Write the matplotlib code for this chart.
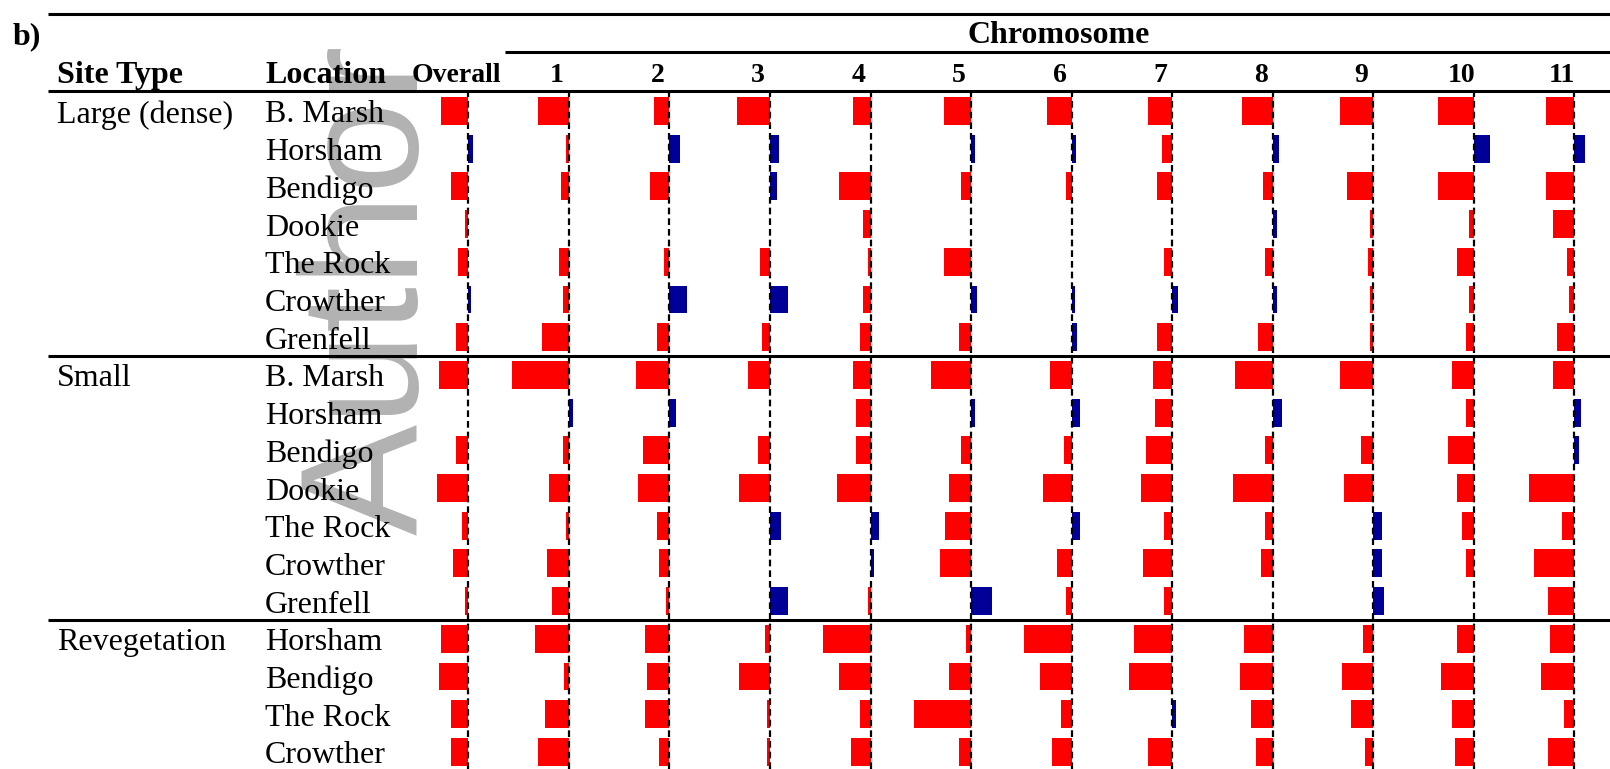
import matplotlib.pyplot as plt
import numpy as np

W, H = 1610, 769

site_types = ["Large (dense)", "Small", "Revegetation"]
site_sizes = [7, 7, 4]
locations = [
    "B. Marsh", "Horsham", "Bendigo", "Dookie", "The Rock", "Crowther", "Grenfell",
    "B. Marsh", "Horsham", "Bendigo", "Dookie", "The Rock", "Crowther", "Grenfell",
    "Horsham", "Bendigo", "The Rock", "Crowther",
]
columns = ["Overall", "1", "2", "3", "4", "5", "6", "7", "8", "9", "10", "11"]

# one list per column, one value per location row (negative = red, positive = blue)
overall = [-2.7, 0.5, -1.7, -0.3, -1.0, 0.3, -1.2, -2.9, 0.0, -1.2, -3.1, -0.6, -1.5, -0.3, -2.7, -2.9, -1.7, -1.7]
chr1 = [-3.1, -0.3, -0.8, 0.0, -1.0, -0.6, -2.7, -5.7, 0.4, -0.6, -2.0, -0.3, -2.2, -1.7, -3.4, -0.5, -2.4, -3.1]
chr2 = [-1.5, 1.1, -1.9, 0.0, -0.5, 1.8, -1.2, -3.3, 0.7, -2.6, -3.1, -1.2, -1.0, -0.3, -2.4, -2.2, -2.4, -1.0]
chr3 = [-3.3, 0.9, 0.7, 0.0, -1.0, 1.8, -0.8, -2.2, 0.0, -1.2, -3.1, 1.1, 0.0, 1.8, -0.5, -3.1, -0.3, -0.3]
chr4 = [-1.8, 0.0, -3.2, -0.8, -0.3, -0.8, -1.1, -1.8, -1.5, -1.5, -3.4, 0.8, 0.3, -0.3, -4.8, -3.2, -1.1, -2.0]
chr5 = [-2.7, 0.4, -1.0, 0.0, -2.7, 0.6, -1.2, -4.0, 0.4, -1.0, -2.2, -2.6, -3.1, 2.1, -0.5, -2.2, -5.7, -1.2]
chr6 = [-2.5, 0.4, -0.6, 0.0, 0.0, 0.3, 0.5, -2.2, 0.8, -0.8, -2.9, 0.8, -1.5, -0.6, -4.8, -3.2, -1.1, -2.0]
chr7 = [-2.4, -1.0, -1.5, 0.0, -0.8, 0.6, -1.5, -1.9, -1.7, -2.6, -3.1, -0.8, -2.9, -0.8, -3.8, -4.3, 0.4, -2.4]
chr8 = [-3.1, 0.6, -1.0, 0.4, -0.8, 0.4, -1.5, -3.8, 0.9, -0.8, -4.0, -0.8, -1.2, 0.0, -2.9, -3.3, -2.2, -1.7]
chr9 = [-3.3, 0.0, -2.6, -0.3, -0.5, -0.3, -0.3, -3.3, 0.0, -1.2, -2.9, 0.9, 0.9, 1.1, -1.0, -3.1, -2.2, -0.8]
chr10 = [-3.6, 1.6, -3.6, -0.5, -1.7, -0.5, -0.8, -2.2, -0.8, -2.6, -1.7, -1.2, -0.8, 0.0, -1.7, -3.3, -2.2, -1.9]
chr11 = [-2.8, 1.1, -2.8, -2.1, -0.7, -0.5, -1.7, -2.1, 0.7, 0.5, -4.5, -1.2, -4.0, -2.6, -2.4, -3.3, -1.0, -2.6]
values = [overall, chr1, chr2, chr3, chr4, chr5, chr6, chr7, chr8, chr9, chr10, chr11]

# layout (pixels)
first_row = 111.0
row_pitch = 37.7
header_line = 91.0
col0 = 468.3
col_pitch = 100.55
serif = "Liberation Serif"

fig = plt.figure(figsize=(W / 100, H / 100), dpi=100)

bg = fig.add_axes([0, 0, 1, 1])
bg.set_xlim(0, W)
bg.set_ylim(H, 0)
bg.axis("off")

# watermark behind everything
bg.text(418, 535, "Author", rotation=90, rotation_mode="anchor", ha="left", va="baseline",
        fontsize=120, family="Liberation Sans", color="#b2b2b2", zorder=0)

# table rules
rule_w = 2.2
bg.hlines([13.5, header_line], 48, W, color="black", lw=rule_w)
bg.hlines(52.3, 505, W, color="black", lw=rule_w)
starts = np.cumsum(site_sizes)[:-1]
sep_y = first_row + (starts - 0.5) * row_pitch
bg.hlines(sep_y, 48, W, color="black", lw=rule_w)

# header
bg.text(13, 44, "b)", fontsize=23, fontweight="bold", family=serif)
bg.text(1058.7, 43.3, "Chromosome", fontsize=23, fontweight="bold", family=serif, ha="center")
bg.text(57, 83, "Site Type", fontsize=23, fontweight="bold", family=serif)
bg.text(265, 83, "Location", fontsize=23, fontweight="bold", family=serif)
col_x = col0 + col_pitch * np.arange(len(columns))
for x, name in zip(col_x, columns):
    bg.text(x - 12, 82, name, fontsize=20, fontweight="bold", family=serif, ha="center")

# row labels
row_y = first_row + row_pitch * np.arange(len(locations))
group_start = np.concatenate([[0], starts])
for s, name in zip(group_start, site_types):
    bg.text(57, row_y[s] + 11.5, name, fontsize=23, family=serif)
for y, name in zip(row_y, locations):
    bg.text(265, y + 11.5, name, fontsize=23, family=serif)

# one narrow axes per column; 1 data unit = 10 px
rows = np.arange(len(locations))
for x, vals in zip(col_x, values):
    v = np.array(vals)
    ax = fig.add_axes([(x - 70) / W, 0, 100 / W, (H - header_line) / H])
    ax.set_xlim(-7, 3)
    ax.set_ylim((H - first_row) / row_pitch, (header_line - first_row) / row_pitch)
    ax.axis("off")
    colors = np.where(v < 0, "#ff0000", "#000099")
    ax.barh(rows, v, height=0.74, color=colors, zorder=2)
    ax.axvline(0, color="black", lw=1.6, dashes=(3.0, 1.8), zorder=3)

fig.savefig("out.png", dpi=100)
